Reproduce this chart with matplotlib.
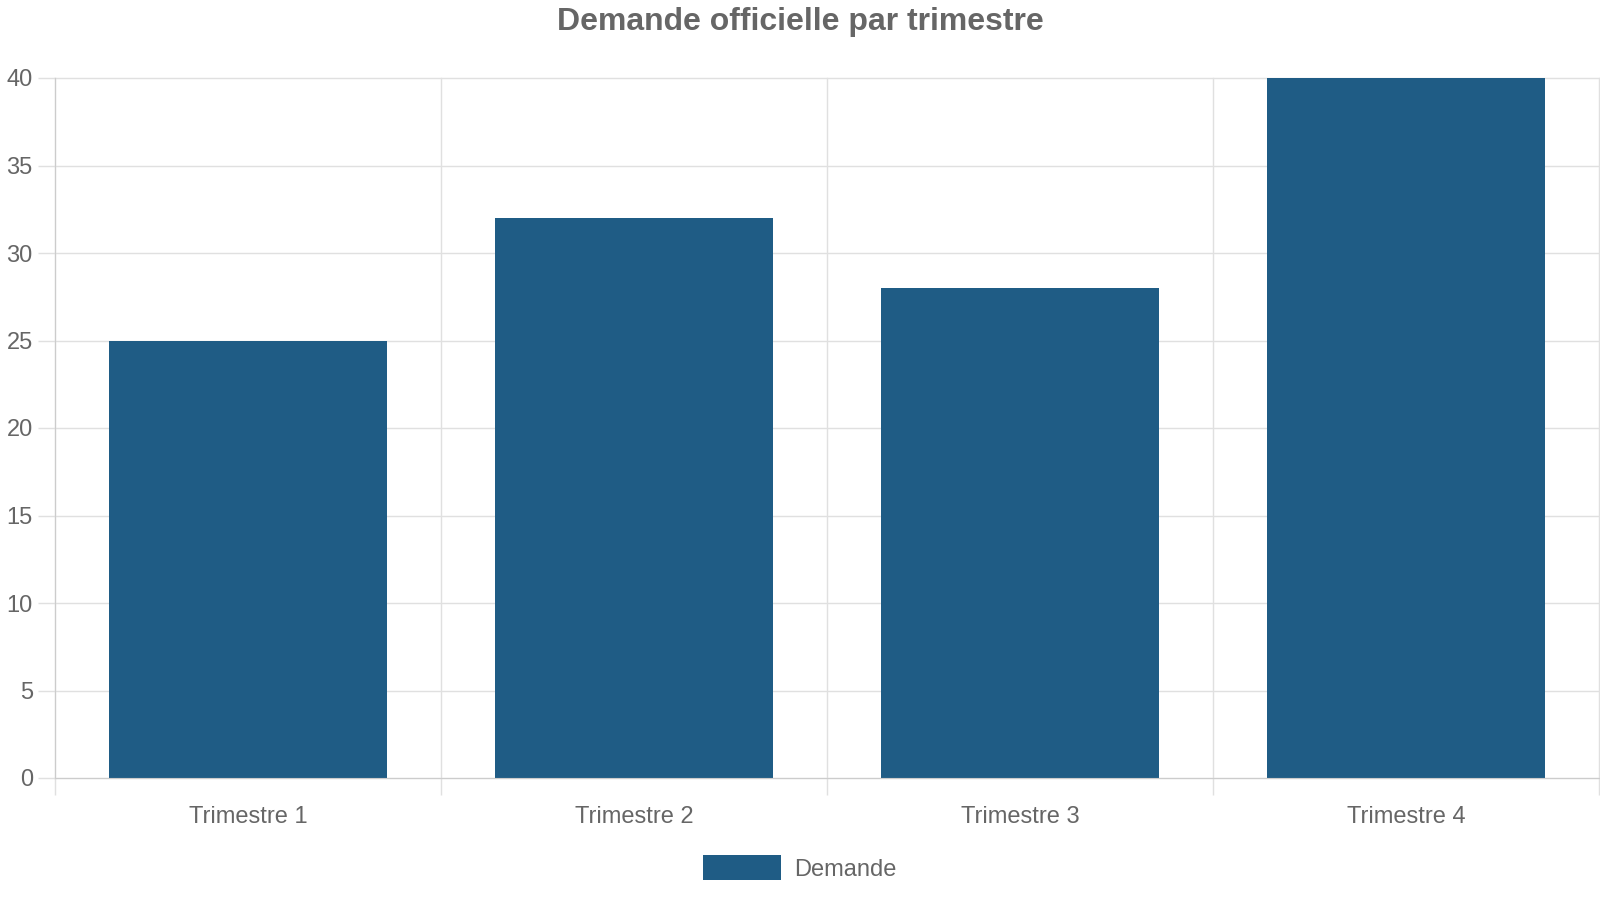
import numpy as np
import matplotlib
matplotlib.use('Agg')
import matplotlib.pyplot as plt
from matplotlib.patches import Patch

plt.rcParams['font.family'] = ['Liberation Sans', 'DejaVu Sans']

categories = ['Trimestre 1', 'Trimestre 2', 'Trimestre 3', 'Trimestre 4']
demande = [25, 32, 28, 40]
yticks = [0, 5, 10, 15, 20, 25, 30, 35, 40]

bar_color = '#1f5c85'
text_color = '#666666'
grid_color = '#e0e0e0'

fig = plt.figure(figsize=(16, 9), dpi=100)
ax = fig.add_axes([55/1600, 1 - 778/900, 1544/1600, 700/900])

x = np.arange(len(categories))
ax.bar(x, demande, width=0.72, color=bar_color, zorder=3)

ax.set_xlim(-0.5, len(categories) - 0.5)
ax.set_ylim(0, 40)

# grille verticale aux bords des categories
ax.set_xticks(x)
ax.set_xticklabels(categories)
ax.set_xticks(np.arange(len(categories) + 1) - 0.5, minor=True)
ax.tick_params(axis='x', which='major', length=0, pad=20.5, labelsize=17, labelcolor=text_color)
ax.tick_params(axis='x', which='minor', length=12, width=1, color=grid_color)
ax.grid(axis='x', which='minor', color=grid_color, linewidth=1, zorder=0)

ax.set_yticks(yticks)
ax.tick_params(axis='y', length=12, width=1, color=grid_color, pad=4,
               labelsize=17, labelcolor=text_color)
ax.grid(axis='y', which='major', color=grid_color, linewidth=1, zorder=0)

for s in ['top', 'right']:
    ax.spines[s].set_visible(False)
ax.spines['left'].set_color('#cccccc')
ax.spines['bottom'].set_color('#cccccc')
ax.spines['left'].set_zorder(4)
ax.spines['bottom'].set_zorder(4)
for tick in ax.xaxis.get_minor_ticks() + ax.yaxis.get_major_ticks():
    tick.gridline.set_clip_on(False)

fig.text(0.5, 1 - 22/900, 'Demande officielle par trimestre', ha='center', va='center',
         fontsize=23, fontweight='bold', color=text_color)

leg = fig.legend(handles=[Patch(facecolor=bar_color, label='Demande')],
                 loc='center', bbox_to_anchor=(0.5, 1 - 868/900), frameon=False,
                 fontsize=17, handlelength=3.3, handleheight=1.25, handletextpad=0.55)
for t in leg.get_texts():
    t.set_color(text_color)

fig.savefig('out.png', dpi=100)
